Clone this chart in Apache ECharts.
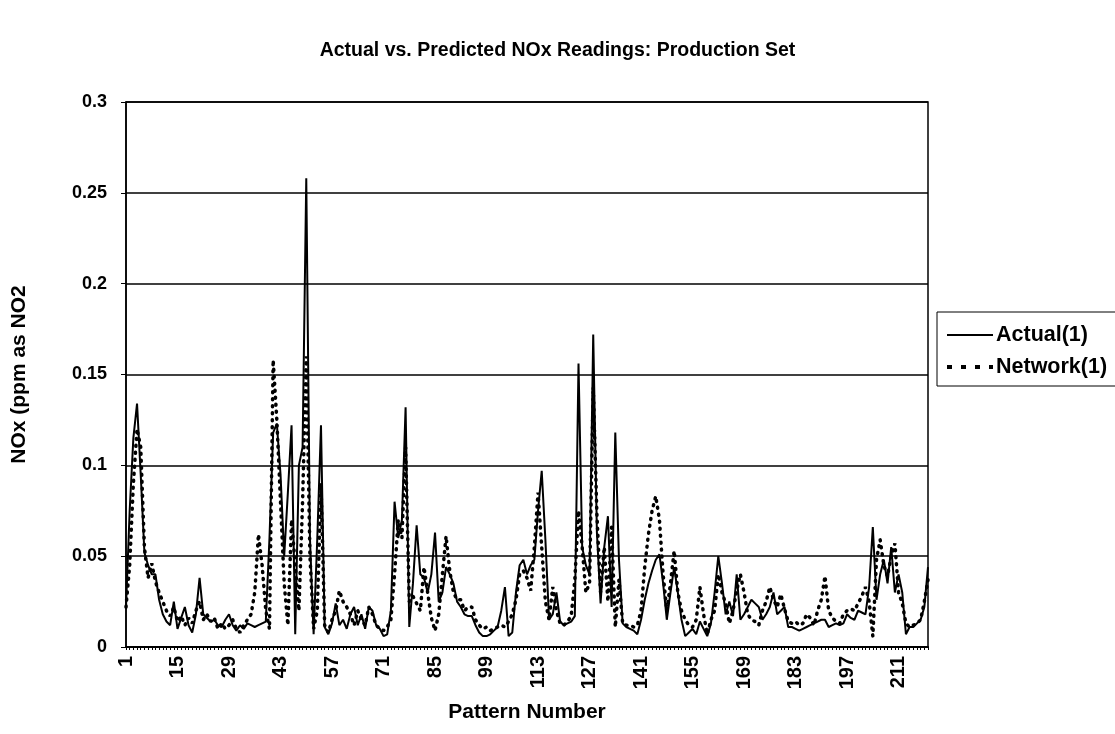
<!DOCTYPE html>
<html>
<head>
<meta charset="utf-8">
<script src="https://cdn.jsdelivr.net/npm/echarts@6/dist/echarts.min.js"></script>
<style>
html,body{margin:0;padding:0;background:#fff;}
#chart{width:1115px;height:734px;}
</style>
</head>
<body>
<div id="chart"></div>
<script>
// Pattern numbers 1..219
const patterns = [];
for (let i = 1; i <= 219; i++) patterns.push(String(i));

const actual = [
0.022,0.075,0.115,0.134,0.095,0.052,0.045,0.040,0.040,0.026,
0.018,0.014,0.012,0.025,0.010,0.016,0.022,0.012,0.008,0.018,
0.038,0.018,0.016,0.014,0.015,0.012,0.011,0.015,0.018,0.012,
0.009,0.012,0.010,0.013,0.012,0.011,0.012,0.013,0.014,0.060,
0.118,0.123,0.095,0.050,0.085,0.122,0.007,0.100,0.110,0.258,
0.060,0.007,0.060,0.122,0.011,0.007,0.013,0.024,0.012,0.015,
0.010,0.018,0.022,0.012,0.018,0.010,0.022,0.020,0.012,0.010,
0.006,0.007,0.020,0.080,0.060,0.070,0.132,0.011,0.035,0.067,
0.040,0.038,0.030,0.040,0.063,0.025,0.030,0.044,0.040,0.035,
0.025,0.022,0.018,0.017,0.017,0.012,0.008,0.006,0.006,0.007,
0.009,0.011,0.020,0.033,0.006,0.008,0.030,0.045,0.048,0.040,
0.045,0.048,0.075,0.097,0.059,0.015,0.018,0.030,0.014,0.012,
0.013,0.014,0.017,0.156,0.055,0.045,0.040,0.172,0.063,0.024,
0.055,0.072,0.022,0.118,0.048,0.013,0.011,0.010,0.009,0.007,
0.015,0.026,0.035,0.042,0.048,0.051,0.035,0.015,0.030,0.044,
0.030,0.015,0.006,0.008,0.010,0.007,0.014,0.010,0.006,0.013,
0.030,0.050,0.035,0.018,0.025,0.017,0.040,0.015,0.018,0.022,
0.026,0.024,0.022,0.015,0.018,0.022,0.030,0.018,0.020,0.022,
0.011,0.011,0.010,0.009,0.010,0.011,0.012,0.013,0.014,0.015,
0.015,0.011,0.012,0.013,0.012,0.013,0.018,0.016,0.015,0.020,
0.019,0.018,0.033,0.066,0.026,0.040,0.048,0.035,0.055,0.030,
0.040,0.030,0.007,0.011,0.011,0.013,0.015,0.022,0.044
];

const network = [
0.022,0.045,0.090,0.120,0.110,0.055,0.038,0.046,0.036,0.030,
0.025,0.020,0.017,0.022,0.014,0.017,0.012,0.016,0.013,0.020,
0.025,0.015,0.018,0.014,0.016,0.010,0.013,0.010,0.012,0.015,
0.010,0.008,0.012,0.015,0.018,0.030,0.062,0.045,0.020,0.010,
0.158,0.125,0.080,0.035,0.012,0.070,0.045,0.020,0.080,0.160,
0.050,0.010,0.020,0.090,0.012,0.008,0.015,0.020,0.031,0.025,
0.022,0.018,0.012,0.020,0.015,0.012,0.022,0.018,0.012,0.010,
0.009,0.011,0.015,0.040,0.070,0.060,0.110,0.025,0.028,0.024,
0.020,0.044,0.030,0.016,0.009,0.018,0.040,0.061,0.042,0.030,
0.026,0.026,0.020,0.022,0.022,0.015,0.012,0.010,0.011,0.009,
0.010,0.011,0.012,0.011,0.014,0.018,0.026,0.040,0.042,0.038,
0.031,0.055,0.085,0.055,0.025,0.015,0.033,0.020,0.013,0.012,
0.014,0.017,0.037,0.075,0.055,0.030,0.035,0.143,0.073,0.030,
0.055,0.025,0.066,0.011,0.037,0.013,0.012,0.012,0.011,0.012,
0.020,0.044,0.062,0.075,0.083,0.070,0.040,0.020,0.035,0.053,
0.030,0.020,0.015,0.012,0.011,0.015,0.033,0.018,0.007,0.015,
0.020,0.040,0.030,0.024,0.013,0.020,0.031,0.040,0.030,0.018,
0.015,0.014,0.012,0.020,0.025,0.033,0.026,0.022,0.029,0.021,
0.014,0.013,0.014,0.012,0.013,0.018,0.016,0.012,0.020,0.026,
0.039,0.020,0.016,0.014,0.013,0.018,0.020,0.021,0.020,0.024,
0.028,0.033,0.025,0.006,0.048,0.059,0.045,0.039,0.050,0.057,
0.030,0.024,0.013,0.011,0.012,0.013,0.015,0.025,0.037
];

const yTicks = [0, 0.05, 0.1, 0.15, 0.2, 0.25, 0.3];

const FONT = '"Liberation Sans", Arial, sans-serif';
const chart = echarts.init(document.getElementById('chart'), null, {renderer: 'canvas'});
chart.setOption({
  animation: false,
  backgroundColor: '#fff',
  title: {
    text: 'Actual vs. Predicted NOx Readings: Production Set',
    left: 'center',
    top: 36,
    textStyle: {fontFamily: FONT, fontWeight: 'bold', fontSize: 19.5, color: '#000'}
  },
  legend: {
    orient: 'vertical',
    left: 937,
    top: 312,
    padding: [12, 60, 8, 8],
    itemWidth: 46,
    itemHeight: 20,
    itemGap: 10,
    backgroundColor: '#fff',
    borderColor: '#000',
    borderWidth: 1,
    itemStyle: {color: 'transparent', borderColor: 'transparent', borderWidth: 0},
    textStyle: {fontFamily: FONT, fontWeight: 'bold', fontSize: 21.5, color: '#000', padding: [0,0,0,-2]},
    data: [
      {name: 'Actual(1)', lineStyle: {color: '#000', width: 2, type: 'solid'}},
      {name: 'Network(1)', lineStyle: {color: '#000', width: 4, type: [5, 9], cap: 'butt'}}
    ]
  },
  grid: {
    left: 126, right: 187, top: 102, bottom: 87,
    outerBoundsMode: 'none',
    containLabel: false,
    show: true, borderColor: '#000', borderWidth: 1.5, backgroundColor: '#fff'
  },
  xAxis: {
    type: 'category',
    data: patterns,
    boundaryGap: false,
    name: 'Pattern Number',
    nameLocation: 'middle',
    nameGap: 55,
    nameTextStyle: {fontFamily: FONT, fontWeight: 'bold', fontSize: 21, color: '#000'},
    axisLine: {lineStyle: {color: '#000', width: 2}},
    axisTick: {show: true, interval: 0, length: 3, lineStyle: {color: '#000', width: 1}},
    axisLabel: {
      interval: 13, rotate: 90, margin: 9,
      fontFamily: FONT, fontWeight: 'bold', fontSize: 20, color: '#000'
    },
    splitLine: {show: false}
  },
  yAxis: {
    type: 'value',
    min: 0, max: 0.3, interval: 0.05,
    name: 'NOx (ppm as NO2',
    nameLocation: 'middle',
    nameGap: 96,
    nameTextStyle: {fontFamily: FONT, fontWeight: 'bold', fontSize: 21, color: '#000'},
    axisLine: {show: true, lineStyle: {color: '#000', width: 1.5}},
    axisTick: {show: true, length: 5, lineStyle: {color: '#000'}},
    axisLabel: {
      margin: 19, fontFamily: FONT, fontWeight: 'bold', fontSize: 18, color: '#000',
      formatter: v => { const t = yTicks.find(x => Math.abs(x - v) < 1e-9); return String(t !== undefined ? t : v); }
    },
    splitLine: {show: true, lineStyle: {color: '#000', width: 1.5}}
  },
  series: [
    {
      name: 'Actual(1)', type: 'line', data: actual, symbol: 'none',
      lineStyle: {color: '#000', width: 2, type: 'solid'},
      itemStyle: {color: '#000'}
    },
    {
      name: 'Network(1)', type: 'line', data: network, symbol: 'none',
      lineStyle: {color: '#000', width: 3.5, type: [1, 6], cap: 'round'},
      itemStyle: {color: '#000'}
    }
  ]
});
</script>
</body>
</html>
